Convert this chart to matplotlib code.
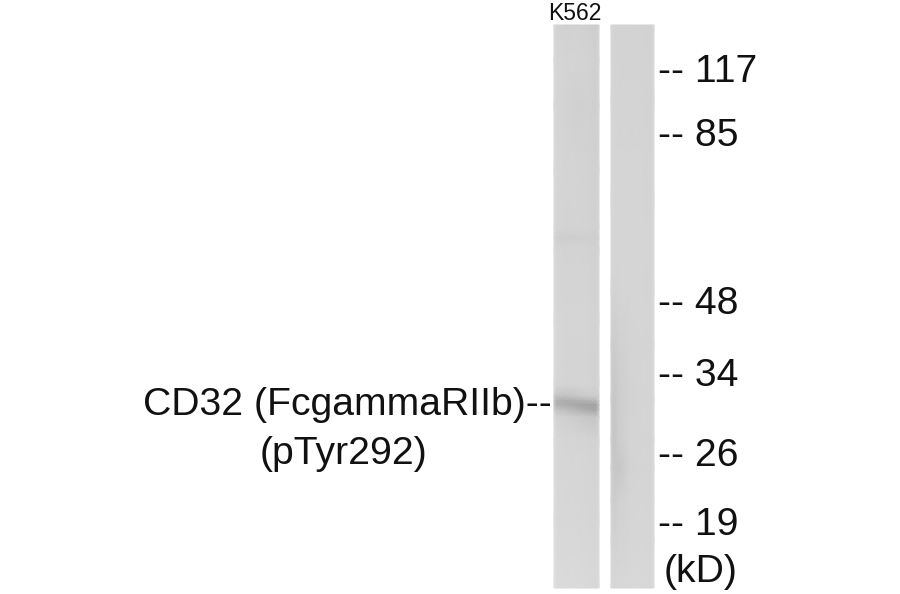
import matplotlib
matplotlib.use('Agg')
import matplotlib.pyplot as plt
import numpy as np

plt.rcParams['font.family'] = ['Liberation Sans', 'DejaVu Sans']

# lane 1 (K562), grey levels
lane1_x = [554, 557, 566, 577, 588, 596, 599]
lane1_y = [25, 60, 105, 170, 228, 238, 248, 320, 385, 396, 401, 405, 410, 417, 440, 520, 588]
lane1_grey = [
    [216, 211, 209, 210, 208, 206, 213],
    [219, 214, 212, 212, 211, 208, 215],
    [218, 213, 211, 208, 209, 207, 214],
    [219, 214, 212, 212, 211, 209, 215],
    [219, 213, 211, 212, 211, 209, 215],
    [215, 208, 205, 206, 207, 206, 213],
    [219, 213, 211, 212, 211, 209, 215],
    [221, 215, 213, 213, 213, 211, 217],
    [220, 214, 212, 212, 212, 210, 216],
    [207, 196, 195, 199, 204, 204, 213],
    [196, 176, 174, 176, 180, 184, 207],
    [197, 178, 174, 168, 164, 163, 198],
    [207, 195, 190, 180, 171, 168, 200],
    [218, 210, 208, 204, 199, 197, 211],
    [221, 215, 213, 213, 212, 211, 217],
    [222, 216, 215, 215, 214, 213, 219],
    [225, 219, 218, 218, 217, 216, 221],
]

# lane 2, no band, darker streak on the left side
lane2_x = [611, 614, 619, 630, 642, 651, 654]
lane2_y = [25, 100, 200, 290, 345, 400, 440, 468, 500, 540, 588]
lane2_grey = [
    [215, 212, 211, 211, 211, 210, 217],
    [216, 213, 212, 212, 212, 211, 218],
    [217, 214, 213, 213, 213, 212, 219],
    [215, 212, 213, 213, 213, 212, 219],
    [209, 204, 208, 212, 213, 212, 219],
    [207, 198, 205, 211, 213, 212, 219],
    [208, 197, 206, 212, 213, 212, 219],
    [210, 200, 199, 211, 213, 212, 219],
    [212, 204, 209, 213, 214, 213, 220],
    [215, 210, 212, 214, 215, 214, 220],
    [219, 215, 215, 216, 216, 215, 222],
]

marker_labels = ['-- 117', '-- 85', '-- 48', '-- 34', '-- 26', '-- 19']
marker_y = [82, 146, 314, 386, 466, 535]

fig = plt.figure(figsize=(9, 5.94), dpi=100)
ax = fig.add_axes([0, 0, 1, 1])
ax.set_xlim(0, 900)
ax.set_ylim(594, 0)
ax.axis('off')

ax.pcolormesh(lane1_x, lane1_y, np.array(lane1_grey), shading='gouraud',
              cmap='gray', vmin=0, vmax=255)
ax.pcolormesh(lane2_x, lane2_y, np.array(lane2_grey), shading='gouraud',
              cmap='gray', vmin=0, vmax=255)

ax.text(575, 20, 'K562', fontsize=16.5, ha='center', va='baseline', color='#111111')

for label, y in zip(marker_labels, marker_y):
    ax.text(658, y, label, fontsize=28.2, ha='left', va='baseline', color='#111111')
ax.text(664, 582, '(kD)', fontsize=28.2, ha='left', va='baseline', color='#111111')

ax.text(347, 415, 'CD32 (FcgammaRIIb)--', fontsize=28.2, ha='center', va='baseline', color='#111111')
ax.text(344, 464, '(pTyr292)', fontsize=28.2, ha='center', va='baseline', color='#111111')

fig.savefig('out.png', dpi=100)
